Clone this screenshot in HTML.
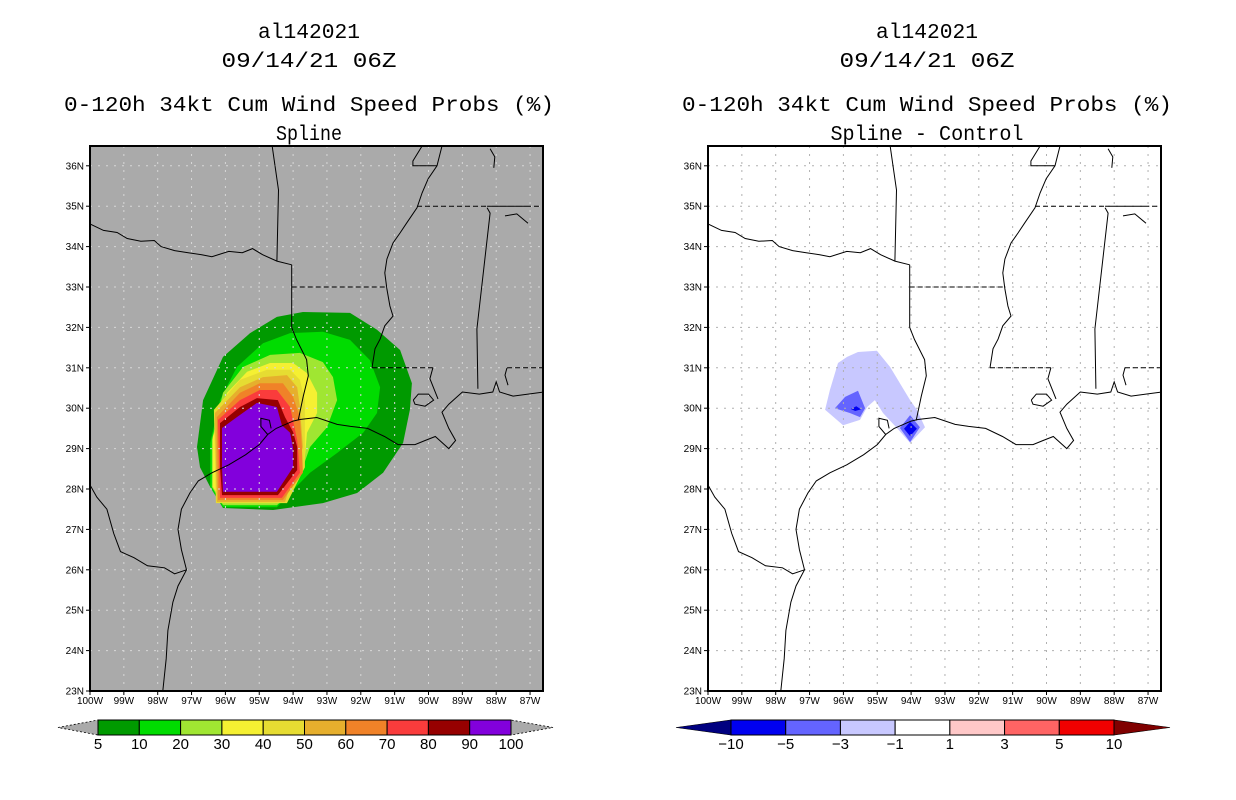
<!DOCTYPE html>
<html><head><meta charset="utf-8"><style>
html,body{margin:0;padding:0;background:#fff;}
svg{display:block;font-family:"Liberation Mono",monospace;}
</style></head><body>
<svg id="root" width="1236" height="800" xmlns="http://www.w3.org/2000/svg"></svg>
<script>
// ---------- data ----------
const lonTicks=[-100,-99,-98,-97,-96,-95,-94,-93,-92,-91,-90,-89,-88,-87];
const latTicks=[23,24,25,26,27,28,29,30,31,32,33,34,35,36];
const probLevels=[5,10,20,30,40,50,60,70,80,90,100];
const probColors=["#009a00","#00dc00","#a0e632","#f5f032","#e6dc32","#e6af2d","#f08228","#fa3c3c","#960000","#8200dc"];
const diffLevels=[-10,-5,-3,-1,1,3,5,10];
const diffColors=["#0000f0","#6464ff","#c8c8ff","#ffffff","#ffc8c8","#ff6464","#f00000"];
const p5=[[-96.84,29.04],[-96.66,30.20],[-96.07,31.27],[-95.27,31.86],[-94.48,32.26],[-93.71,32.38],[-92.32,32.36],[-91.52,31.94],[-90.84,31.44],[-90.49,30.62],[-90.55,29.96],[-90.75,29.14],[-91.34,28.40],[-92.11,27.90],[-93.12,27.65],[-94.59,27.48],[-96.07,27.53],[-96.45,28.05],[-96.75,28.54]];
const p10=[[-96.45,29.14],[-96.16,30.20],[-95.66,31.02],[-94.89,31.61],[-94.09,31.86],[-93.12,31.89],[-92.32,31.69],[-91.73,31.19],[-91.43,30.52],[-91.52,29.88],[-91.93,29.39],[-92.70,28.89],[-93.50,28.40],[-94.09,27.90],[-94.48,27.55],[-96.07,27.55],[-96.45,28.05]];
const p20=[[-96.40,29.21],[-96.07,30.38],[-95.48,31.02],[-94.68,31.32],[-93.80,31.37],[-93.12,31.14],[-92.82,30.77],[-92.70,30.20],[-93.00,29.53],[-93.50,29.04],[-93.71,28.54],[-94.09,27.90],[-94.48,27.60],[-96.07,27.60],[-96.40,28.05]];
const p30=[[-96.37,29.29],[-95.95,30.38],[-95.36,30.90],[-94.68,31.12],[-94.00,31.12],[-93.59,30.87],[-93.29,30.38],[-93.29,29.88],[-93.59,29.39],[-93.65,28.79],[-93.80,28.40],[-94.18,27.90],[-94.53,27.65],[-96.07,27.65],[-96.37,28.05]];
const p40=[[-96.34,29.96],[-95.57,30.70],[-94.77,30.95],[-94.09,30.95],[-93.80,30.70],[-93.65,30.20],[-93.65,29.04],[-93.65,28.54],[-94.18,27.65],[-96.28,27.65]];
const p50=[[-96.31,29.88],[-95.57,30.52],[-94.89,30.77],[-94.18,30.82],[-93.88,30.52],[-93.80,30.03],[-93.71,29.04],[-94.24,27.68],[-96.25,27.68]];
const p60=[[-96.25,29.78],[-95.57,30.38],[-94.98,30.62],[-94.30,30.62],[-94.00,30.28],[-93.80,29.78],[-93.74,29.04],[-93.71,28.40],[-94.30,27.73],[-96.22,27.73]];
const p70=[[-96.22,29.71],[-95.57,30.20],[-94.98,30.45],[-94.48,30.45],[-94.09,30.03],[-93.88,29.21],[-93.80,28.40],[-94.33,27.78],[-96.16,27.78]];
const p80=[[-96.16,29.63],[-95.57,30.03],[-95.07,30.25],[-94.45,30.20],[-94.24,29.78],[-94.00,29.41],[-93.88,29.04],[-93.88,28.47],[-94.45,27.85],[-96.10,27.85],[-96.16,28.54]];
const p90=[[-96.10,29.51],[-95.66,29.78],[-95.07,30.13],[-94.48,30.03],[-94.33,29.58],[-94.09,29.39],[-94.00,29.01],[-94.00,28.54],[-94.48,27.93],[-96.07,27.93],[-96.10,28.54]];
const dLight=[[-95.57,31.39],[-95.01,31.42],[-94.62,31.02],[-94.33,30.62],[-94.03,30.20],[-93.83,29.96],[-93.59,29.53],[-94.03,29.14],[-94.42,29.51],[-94.83,29.88],[-95.07,30.20],[-95.30,30.03],[-95.51,29.71],[-96.01,29.58],[-96.54,29.96],[-96.40,30.45],[-96.16,31.12],[-95.89,31.27]];
const dMedA=[[-96.25,30.00],[-95.95,30.28],[-95.57,30.43],[-95.36,30.00],[-95.51,29.78],[-95.81,29.88]];
const dMedB=[[-94.03,29.83],[-93.74,29.53],[-94.03,29.16],[-94.33,29.51]];
const dDarkA=[[-95.78,29.98],[-95.62,30.05],[-95.48,29.97],[-95.65,29.93]];
const dDarkB=[[-94.03,29.66],[-93.83,29.49],[-94.03,29.31],[-94.21,29.49]];
const coast=[[-97.85,23.0],[-97.75,23.8],[-97.7,24.5],[-97.55,25.2],[-97.4,25.6],[-97.15,26.0],[-97.3,26.5],[-97.4,27.0],[-97.3,27.5],[-97.05,27.9],[-96.8,28.2],[-96.4,28.4],[-95.9,28.6],[-95.4,28.85],[-95.0,29.1],[-94.75,29.35],[-94.5,29.5],[-94.0,29.68],[-93.8,29.72],[-93.3,29.77],[-92.7,29.6],[-92.3,29.55],[-91.8,29.5],[-91.3,29.3],[-90.9,29.1],[-90.4,29.1],[-90.1,29.2],[-89.8,29.3],[-89.4,29.0],[-89.2,29.2],[-89.4,29.5],[-89.6,29.9],[-89.4,30.1],[-89.0,30.4],[-88.5,30.35],[-88.1,30.4],[-88.0,30.65],[-87.9,30.4],[-87.5,30.3],[-86.6,30.4]];
const galvBay=[[-94.75,29.35],[-94.95,29.55],[-94.95,29.75],[-94.7,29.7],[-94.65,29.5]];
const lakePont=[[-90.45,30.2],[-90.3,30.35],[-90.0,30.35],[-89.85,30.2],[-90.1,30.05],[-90.4,30.1],[-90.45,30.2]];
const rioGrande=[[-97.15,26.0],[-97.5,25.9],[-97.8,26.05],[-98.3,26.1],[-98.7,26.3],[-99.1,26.45],[-99.3,26.9],[-99.5,27.5],[-99.8,27.8],[-100,28.1]];
const redRiver=[[-100,34.56],[-99.6,34.4],[-99.2,34.35],[-98.9,34.2],[-98.5,34.13],[-98.1,34.15],[-97.9,34.0],[-97.5,33.9],[-97.1,33.85],[-96.7,33.8],[-96.4,33.75],[-95.9,33.88],[-95.5,33.85],[-95.2,33.95],[-94.9,33.8],[-94.48,33.64],[-94.04,33.55]];
const okArBorder=[[-94.62,36.5],[-94.43,35.4],[-94.48,33.64]];
const txLaBorder=[[-94.04,33.55],[-94.04,32.0],[-93.9,31.7],[-93.6,31.2],[-93.55,30.8],[-93.7,30.3],[-93.85,29.7]];
const mississippi=[[-89.60,36.49],[-89.75,36.0],[-90.01,35.68],[-90.19,35.33],[-90.34,34.96],[-90.64,34.59],[-90.84,34.34],[-91.05,34.09],[-91.23,33.69],[-91.29,33.35],[-91.23,32.95],[-91.14,32.53],[-91.05,32.28],[-91.29,32.04],[-91.43,31.71],[-91.58,31.47],[-91.67,31.0]];
const kyLine=[[-90.19,36.49],[-90.46,36.12],[-90.46,36.0],[-89.75,36.0]];
const tennRiver=[[-88.18,36.42],[-88.04,36.22],[-88.07,35.95]];
const tennArc=[[-87.74,34.76],[-87.39,34.81],[-87.06,34.58]];
const pearl=[[-89.87,31.0],[-89.96,30.73],[-89.72,30.23]];
const msAlBorder=[[-88.27,34.96],[-88.18,34.83],[-88.57,31.96],[-88.54,30.48]];
const perdido=[[-87.68,31.0],[-87.74,30.82],[-87.65,30.57]];
const tn35solid=[[-88.27,35.0],[-87.12,35.0]];
const dashedLines=[[[-94.04,33.0],[-91.23,33.0]],[[-91.67,31.0],[-89.87,31.0]],[[-90.34,35.0],[-88.27,35.0]],[[-87.12,35.0],[-86.6,35.0]],[[-87.68,31.0],[-86.6,31.0]]];

// ---------- drawing ----------
const NS="http://www.w3.org/2000/svg";
const root=document.getElementById('root');
function el(tag,attrs,parent){const e=document.createElementNS(NS,tag);for(const k in attrs)e.setAttribute(k,attrs[k]);(parent||root).appendChild(e);return e;}
const FX0=90,FY0=146,FW=453,FH=545,PXD=33.85,PYD=40.4;
function xs(lon,ox){return ox+FX0+(lon+100)*PXD;}
function ys(lat){return FY0+FH-(lat-23)*PYD;}
function pts(arr,ox){return arr.map(p=>xs(p[0],ox).toFixed(1)+','+ys(p[1]).toFixed(1)).join(' ');}

function panel(ox,id,bg){
  const g=el('g',{});
  
  
  const cp=el('clipPath',{id:'clip'+id},g);
  el('rect',{x:ox+FX0,y:FY0,width:FW,height:FH},cp);
  const bgR=el('rect',{x:ox+FX0,y:FY0,width:FW,height:FH,fill:bg},g);
  
  
  const inner=el('g',{'clip-path':'url(#clip'+id+')'},g);
  return {g,inner};
}
function poly(parent,arr,ox,fill,name){
  const p=el('polygon',{points:pts(arr,ox),fill:fill},parent);
  
  
}
function drawGrid(parent,ox,col){
  lonTicks.forEach(l=>{const x=xs(l,ox);const ln=el('line',{x1:x,y1:FY0,x2:x,y2:FY0+FH,stroke:col,'stroke-width':1,'stroke-dasharray':'2,6'},parent);
    });
  latTicks.forEach(l=>{const y=ys(l);const ln=el('line',{x1:ox+FX0,y1:y,x2:ox+FX0+FW,y2:y,stroke:col,'stroke-width':1,'stroke-dasharray':'2,6'},parent);
    });
}
function drawGeo(parent,ox){
  [coast,galvBay,lakePont,rioGrande,redRiver,okArBorder,txLaBorder,mississippi,kyLine,tennRiver,tennArc,pearl,msAlBorder,perdido,tn35solid].forEach(a=>{
    const l=el('polyline',{points:pts(a,ox),fill:'none',stroke:'#000','stroke-width':1},parent);
    
    
  });
  dashedLines.forEach(a=>{
    const l=el('polyline',{points:pts(a,ox),fill:'none',stroke:'#000','stroke-width':1,'stroke-dasharray':'5,3'},parent);
    
    
  });
}
function drawAxes(g,ox){
  const f=el('rect',{x:ox+FX0,y:FY0,width:FW,height:FH,fill:'none',stroke:'#000','stroke-width':2},g);
  
  latTicks.forEach(l=>{const y=ys(l);
    el('line',{x1:ox+FX0-4,y1:y,x2:ox+FX0,y2:y,stroke:'#000'},g);
    const t=el('text',{x:ox+FX0-6,y:y+3.5,'font-size':10,'text-anchor':'end','font-family':'Liberation Sans Narrow, Liberation Sans, sans-serif'},g);
    t.textContent=l+'N';});
  lonTicks.forEach(l=>{const x=xs(l,ox);
    el('line',{x1:x,y1:FY0+FH,x2:x,y2:FY0+FH+4,stroke:'#000'},g);
    const t=el('text',{x:x,y:FY0+FH+13,'font-size':10,'text-anchor':'middle','font-family':'Liberation Sans Narrow, Liberation Sans, sans-serif'},g);
    t.textContent=(-l)+'W';});
}
function titles(cx,lines){
  lines.forEach((ln)=>{
    const t=el('text',{x:cx,y:ln[1],'font-size':21,'text-anchor':'middle',textLength:ln[2],lengthAdjust:'spacingAndGlyphs'});
    t.textContent=ln[0];
    
    
  });
}

const L=panel(0,'left','#aaaaaa');
[p5,p10,p20,p30,p40,p50,p60,p70,p80,p90].forEach((a,i)=>poly(L.inner,a,0,probColors[i],'prob-contour-'+probLevels[i]));
drawGrid(L.inner,0,'#d8d8d8');
drawGeo(L.inner,0);
drawAxes(L.g,0);

const R=panel(618,'right','#ffffff');
poly(R.inner,dLight,618,diffColors[2],'diff-region-light');
poly(R.inner,dMedA,618,diffColors[1],'diff-region-medium-west');
poly(R.inner,dMedB,618,diffColors[1],'diff-region-medium-east');
poly(R.inner,dDarkA,618,diffColors[0],'diff-region-dark-west');
poly(R.inner,dDarkB,618,diffColors[0],'diff-region-dark-east');
drawGrid(R.inner,618,'#b0b0b0');
drawGeo(R.inner,618);
drawAxes(R.g,618);

titles(309,[["al142021",38,102,'title-storm-id'],["09/14/21 06Z",67,175,'title-date'],["0-120h 34kt Cum Wind Speed Probs (%)",111,490,'title-product'],["Spline",140,66,'subtitle-model']]);
titles(927,[["al142021",38,102,'title-storm-id-right'],["09/14/21 06Z",67,175,'title-date-right'],["0-120h 34kt Cum Wind Speed Probs (%)",111,490,'title-product-right'],["Spline - Control",140,193,'subtitle-diff']]);

function colorbar(x0,x1,tl,tr,colors,labels,lcol,rcol,name){
  const g=el('g',{});
  
  
  const y0=720,y1=735,ym=727.5,n=colors.length,w=(x1-x0)/n;
  const grey=lcol==='#aaaaaa';
  const a=el('polygon',{points:`${tl},${ym} ${x0},${y0} ${x0},${y1}`,fill:lcol,stroke:'#000','stroke-width':grey?0.8:0.6,'stroke-dasharray':grey?'2,2':'none'},g);
  
  const b=el('polygon',{points:`${tr},${ym} ${x1},${y0} ${x1},${y1}`,fill:rcol,stroke:'#000','stroke-width':grey?0.8:0.6,'stroke-dasharray':grey?'2,2':'none'},g);
  
  colors.forEach((c,i)=>{const r=el('rect',{x:x0+i*w,y:y0,width:w,height:y1-y0,fill:c,stroke:'#000','stroke-width':1},g);
    });
  labels.forEach((l,i)=>{const t=el('text',{x:x0+i*w,y:749,'font-size':15,'text-anchor':'middle','font-family':'Liberation Sans, sans-serif'},g);
    t.textContent=(l<0?'\u2212'+(-l):l);});
}
colorbar(98,511,58,553,probColors,probLevels,'#aaaaaa','#aaaaaa','prob-colorbar');
colorbar(731,1114,676,1170,diffColors,diffLevels,'#000080','#800000','diff-colorbar');
</script>
</body></html>
